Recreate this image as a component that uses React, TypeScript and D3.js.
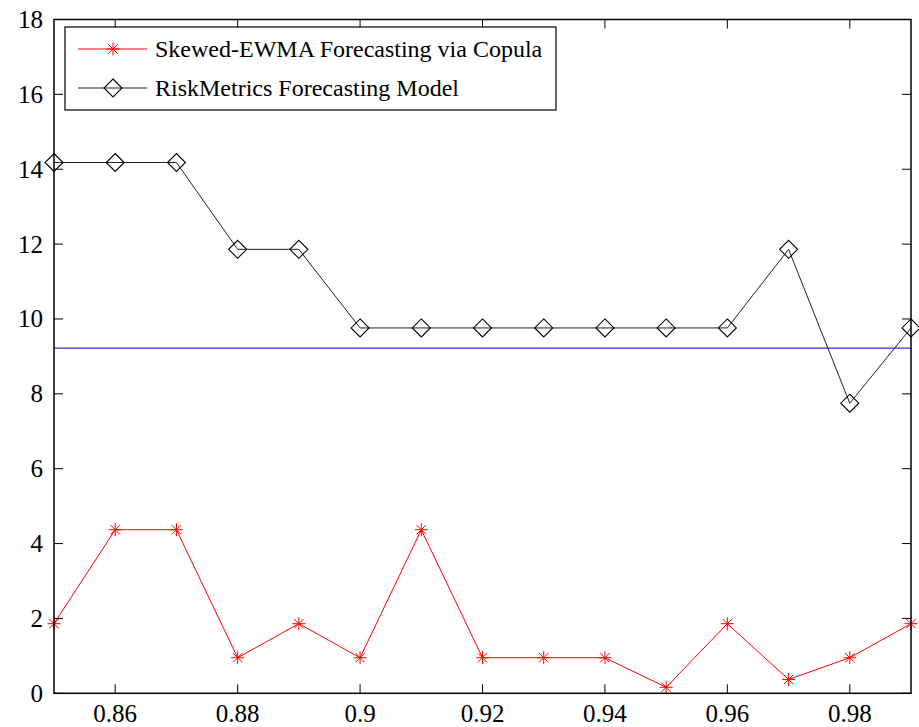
import React from "react";
import * as d3 from "d3";

const xValues = [0.85, 0.86, 0.87, 0.88, 0.89, 0.9, 0.91, 0.92, 0.93, 0.94, 0.95, 0.96, 0.97, 0.98, 0.99];
const skewedEwma = [1.86, 4.37, 4.37, 0.95, 1.86, 0.95, 4.37, 0.95, 0.95, 0.95, 0.16, 1.86, 0.37, 0.95, 1.86];
const riskMetrics = [14.18, 14.18, 14.18, 11.86, 11.86, 9.76, 9.76, 9.76, 9.76, 9.76, 9.76, 9.76, 11.86, 7.75, 9.76];
const referenceLevel = 9.22;
const xTicks = [0.86, 0.88, 0.9, 0.92, 0.94, 0.96, 0.98];
const yTicks = [0, 2, 4, 6, 8, 10, 12, 14, 16, 18];
const seriesNames = ["Skewed-EWMA Forecasting via Copula", "RiskMetrics Forecasting Model"];

const W = 919, H = 727;
const L = 54, R = 911, T = 19.5, B = 693.3;
const FONT = "'Liberation Serif', 'Times New Roman', serif";

function Star({ x, y, r = 6.5, color = "#ff0000" }: { x: number; y: number; r?: number; color?: string }) {
  const d = r * 0.72;
  return (
    <g stroke={color} strokeWidth={1}>
      <line x1={x - r} y1={y} x2={x + r} y2={y} />
      <line x1={x} y1={y - r} x2={x} y2={y + r} />
      <line x1={x - d} y1={y - d} x2={x + d} y2={y + d} />
      <line x1={x - d} y1={y + d} x2={x + d} y2={y - d} />
    </g>
  );
}

function Diamond({ x, y, r = 9 }: { x: number; y: number; r?: number }) {
  return (
    <path
      d={`M${x},${y - r}L${x + r},${y}L${x},${y + r}L${x - r},${y}Z`}
      fill="none"
      stroke="#000"
      strokeWidth={1.1}
    />
  );
}

export default function App() {
  const x = d3.scaleLinear().domain([0.85, 0.99]).range([L, R]);
  const y = d3.scaleLinear().domain([0, 18]).range([B, T]);
  const line = d3
    .line<number>()
    .x((_, i) => x(xValues[i]))
    .y((v) => y(v));
  const tickLen = 9;

  return (
    <svg width={W} height={H} style={{ position: "absolute", left: 0, top: 0, background: "#fff" }}>
      <rect x={0} y={0} width={W} height={H} fill="#fff" />
      {/* reference line */}
      <line x1={L} x2={R} y1={y(referenceLevel)} y2={y(referenceLevel)} stroke="#3333ff" strokeWidth={1.2} />
      {/* series lines */}
      <path d={line(riskMetrics) || ""} fill="none" stroke="#222" strokeWidth={1} />
      <path d={line(skewedEwma) || ""} fill="none" stroke="#ff0000" strokeWidth={1} />
      {riskMetrics.map((v, i) => (
        <Diamond key={"d" + i} x={x(xValues[i])} y={y(v)} />
      ))}
      {skewedEwma.map((v, i) => (
        <Star key={"s" + i} x={x(xValues[i])} y={y(v)} />
      ))}
      {/* axes box */}
      <rect x={L} y={T} width={R - L} height={B - T} fill="none" stroke="#000" strokeWidth={1.5} />
      {xTicks.map((t) => (
        <g key={"xt" + t}>
          <line x1={x(t)} x2={x(t)} y1={B} y2={B - tickLen} stroke="#000" strokeWidth={1} />
          <line x1={x(t)} x2={x(t)} y1={T} y2={T + tickLen} stroke="#000" strokeWidth={1} />
          <text x={x(t)} y={722} textAnchor="middle" fontFamily={FONT} fontSize={25} fill="#000">
            {String(t)}
          </text>
        </g>
      ))}
      {yTicks.map((t) => (
        <g key={"yt" + t}>
          <line x1={L} x2={L + tickLen} y1={y(t)} y2={y(t)} stroke="#000" strokeWidth={1} />
          <line x1={R} x2={R - tickLen} y1={y(t)} y2={y(t)} stroke="#000" strokeWidth={1} />
          <text x={43} y={y(t)} dy="0.34em" textAnchor="end" fontFamily={FONT} fontSize={25} fill="#000">
            {String(t)}
          </text>
        </g>
      ))}
      {/* legend */}
      <rect x={65} y={27} width={491} height={83} fill="#fff" stroke="#000" strokeWidth={1.2} />
      <line x1={78} x2={147} y1={49} y2={49} stroke="#ff0000" strokeWidth={1} />
      <Star x={113} y={49} />
      <text x={155} y={49} dy="0.34em" fontFamily={FONT} fontSize={24} fill="#000">
        {seriesNames[0]}
      </text>
      <line x1={78} x2={147} y1={88} y2={88} stroke="#222" strokeWidth={1} />
      <Diamond x={113} y={88} />
      <text x={155} y={88} dy="0.34em" fontFamily={FONT} fontSize={24} fill="#000">
        {seriesNames[1]}
      </text>
    </svg>
  );
}
